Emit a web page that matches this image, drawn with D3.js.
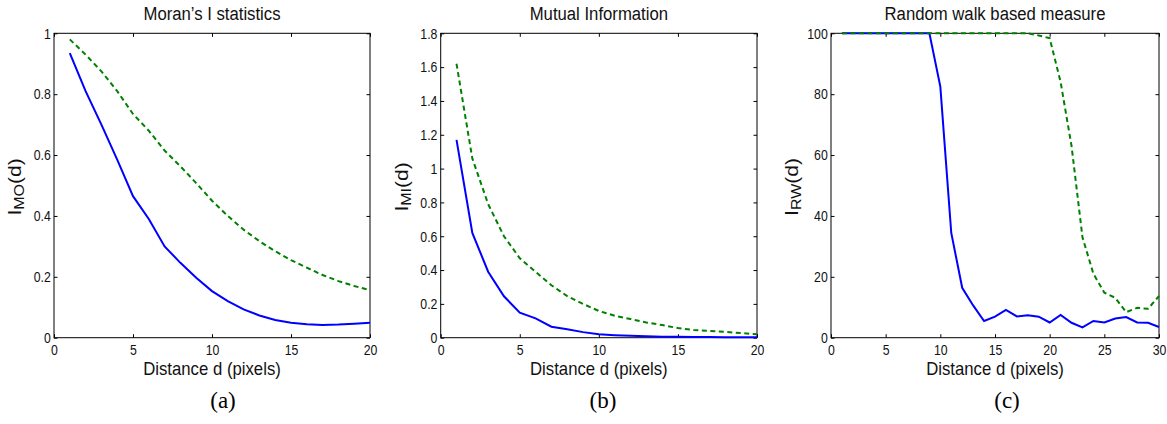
<!DOCTYPE html>
<html>
<head>
<meta charset="utf-8">
<script src="https://cdn.jsdelivr.net/npm/d3@7"></script>
<style>
  body { margin: 0; background: #fff; }
  svg { display: block; }
</style>
</head>
<body>
<svg id="chart" width="1167" height="424"></svg>
<script>
// distances (x) for each panel
const distShort = [1, 2, 3, 4, 5, 6, 7, 8, 9, 10, 11, 12, 13, 14, 15, 16, 17, 18, 19, 20];
const distLong = [1, 2, 3, 4, 5, 6, 7, 8, 9, 10, 11, 12, 13, 14, 15, 16, 17, 18, 19, 20,
                  21, 22, 23, 24, 25, 26, 27, 28, 29, 30];

// (a) Moran's I
const moranSolid = [0.935, 0.81, 0.70, 0.585, 0.465, 0.39, 0.30, 0.246, 0.197, 0.153,
                    0.12, 0.093, 0.073, 0.058, 0.049, 0.044, 0.042, 0.043, 0.046, 0.049];
const moranDashed = [0.98, 0.93, 0.875, 0.81, 0.735, 0.68, 0.615, 0.563, 0.508, 0.45,
                     0.40, 0.355, 0.317, 0.284, 0.255, 0.23, 0.206, 0.186, 0.17, 0.156];

// (b) Mutual information
const miSolid = [1.17, 0.62, 0.39, 0.245, 0.148, 0.114, 0.065, 0.05, 0.033, 0.02,
                 0.015, 0.012, 0.008, 0.006, 0.005, 0.004, 0.004, 0.003, 0.003, 0.003];
const miDashed = [1.62, 1.06, 0.79, 0.60, 0.47, 0.39, 0.31, 0.246, 0.20, 0.158,
                  0.13, 0.11, 0.09, 0.075, 0.057, 0.046, 0.04, 0.034, 0.027, 0.02];

// (c) Random walk
const rwSolid = [100, 100, 100, 100, 100, 100, 100, 100, 100, 82.5,
                 34.4, 16.4, 10.6, 5.5, 6.9, 9.1, 7.0, 7.4, 6.9, 5.0,
                 7.5, 4.9, 3.4, 5.5, 5.0, 6.3, 6.8, 5.0, 4.9, 3.5];
const rwDashed = [100, 100, 100, 100, 100, 100, 100, 100, 100, 100,
                  100, 100, 100, 100, 100, 100, 100, 100, 99.3, 98.4,
                  84, 63, 33, 21, 14.8, 13.1, 8.4, 9.8, 9.5, 13.7];

// tick values / labels
const xTicksShort = [0, 5, 10, 15, 20];
const xTicksLong = [0, 5, 10, 15, 20, 25, 30];
const yTicksA = [0, 0.2, 0.4, 0.6, 0.8, 1];
const yLabelsA = ["0", "0.2", "0.4", "0.6", "0.8", "1"];
const yTicksB = [0, 0.2, 0.4, 0.6, 0.8, 1, 1.2, 1.4, 1.6, 1.8];
const yLabelsB = ["0", "0.2", "0.4", "0.6", "0.8", "1", "1.2", "1.4", "1.6", "1.8"];
const yTicksC = [0, 20, 40, 60, 80, 100];
const yLabelsC = ["0", "20", "40", "60", "80", "100"];

const titles = ["Moran\u2019s I statistics", "Mutual Information", "Random walk based measure"];
const subscripts = ["MO", "MI", "RW"];
const captions = ["(a)", "(b)", "(c)"];
const xTitle = "Distance d (pixels)";

const svg = d3.select("#chart");
const plotTop = 33.3, plotBottom = 337.7;
const sans = "'Liberation Sans', Arial, Helvetica, sans-serif";

const panels = [
  { left: 54, right: 370, capX: 223, xDomain: [0, 20], yDomain: [0, 1],
    dist: distShort, solid: moranSolid, dashed: moranDashed,
    xTicks: xTicksShort, yTicks: yTicksA, yLabels: yLabelsA },
  { left: 440.7, right: 757, capX: 603, xDomain: [0, 20], yDomain: [0, 1.8],
    dist: distShort, solid: miSolid, dashed: miDashed,
    xTicks: xTicksShort, yTicks: yTicksB, yLabels: yLabelsB },
  { left: 831, right: 1159, capX: 1007, xDomain: [0, 30], yDomain: [0, 100],
    dist: distLong, solid: rwSolid, dashed: rwDashed,
    xTicks: xTicksLong, yTicks: yTicksC, yLabels: yLabelsC }
];

function styleAxis(axisG, squeeze) {
  axisG.select(".domain").remove();
  axisG.selectAll(".tick line").attr("stroke", "#000").attr("stroke-width", 1);
  axisG.selectAll("text")
       .attr("font-family", sans)
       .attr("font-size", 15)
       .attr("fill", "#111")
       .attr("transform", `scale(${squeeze},1)`);
}

panels.forEach((p, i) => {
  const x = d3.scaleLinear().domain(p.xDomain).range([p.left, p.right]);
  const y = d3.scaleLinear().domain(p.yDomain).range([plotBottom, plotTop]);
  const g = svg.append("g").attr("class", "panel");

  g.append("rect")
   .attr("x", p.left).attr("y", plotTop)
   .attr("width", p.right - p.left).attr("height", plotBottom - plotTop)
   .attr("fill", "#fff").attr("stroke", "#000").attr("stroke-width", 1);

  const axBottom = g.append("g")
    .attr("transform", `translate(0,${plotBottom})`)
    .call(d3.axisBottom(x).tickValues(p.xTicks).tickFormat(d3.format("d"))
            .tickSize(-3.5).tickPadding(7));
  styleAxis(axBottom, 0.82);

  const axTop = g.append("g")
    .attr("transform", `translate(0,${plotTop})`)
    .call(d3.axisTop(x).tickValues(p.xTicks).tickFormat("").tickSize(-3.5));
  styleAxis(axTop, 1);

  const axLeft = g.append("g")
    .attr("transform", `translate(${p.left},0)`)
    .call(d3.axisLeft(y).tickValues(p.yTicks).tickFormat((d, k) => p.yLabels[k])
            .tickSize(-3.5).tickPadding(4));
  styleAxis(axLeft, 0.82);

  const axRight = g.append("g")
    .attr("transform", `translate(${p.right},0)`)
    .call(d3.axisRight(y).tickValues(p.yTicks).tickFormat("").tickSize(-3.5));
  styleAxis(axRight, 1);

  const line = d3.line().x(d => x(d[0])).y(d => y(d[1]));

  g.append("path")
   .datum(d3.zip(p.dist, p.solid))
   .attr("d", line)
   .attr("fill", "none")
   .attr("stroke", "#0000ff")
   .attr("stroke-width", 2);

  g.append("path")
   .datum(d3.zip(p.dist, p.dashed))
   .attr("d", line)
   .attr("fill", "none")
   .attr("stroke", "#008000")
   .attr("stroke-width", 2)
   .attr("stroke-dasharray", "5,3.5");

  const cx = (p.left + p.right) / 2;

  g.append("text")
   .attr("transform", `translate(${cx},20) scale(0.88,1)`)
   .attr("text-anchor", "middle")
   .attr("font-family", sans).attr("font-size", 19).attr("fill", "#111")
   .text(titles[i]);

  g.append("text")
   .attr("transform", `translate(${cx},375) scale(0.93,1)`)
   .attr("text-anchor", "middle")
   .attr("font-family", sans).attr("font-size", 18).attr("fill", "#111")
   .text(xTitle);

  const yl = g.append("text")
   .attr("transform", `translate(${p.left - 33},187) scale(0.87,1) rotate(-90)`)
   .attr("text-anchor", "middle")
   .attr("font-family", sans).attr("font-size", 21).attr("fill", "#111");
  yl.append("tspan").text("I");
  yl.append("tspan").attr("font-size", 16).attr("dy", 3.5).text(subscripts[i]);
  yl.append("tspan").attr("dy", -3.5).text("(d)");

  g.append("text")
   .attr("x", p.capX).attr("y", 408)
   .attr("text-anchor", "middle")
   .attr("font-family", "'Liberation Serif', 'Times New Roman', serif")
   .attr("font-size", 23).attr("fill", "#000")
   .text(captions[i]);
});
</script>
</body>
</html>
